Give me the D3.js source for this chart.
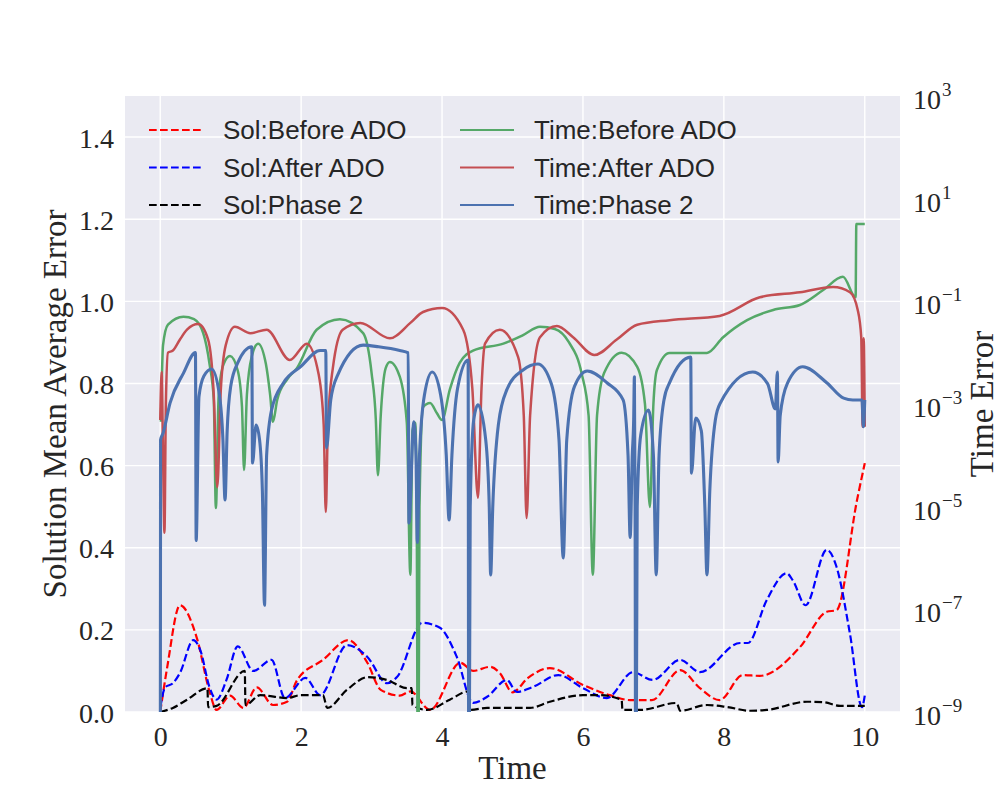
<!DOCTYPE html>
<html>
<head>
<meta charset="utf-8">
<script src="https://cdn.jsdelivr.net/npm/d3@7"></script>
<style>
  body { margin: 0; background: #ffffff; }
  svg { display: block; }
</style>
</head>
<body>
<div id="chart"></div>
<script>
// ---- data ----------------------------------------------------------------
var xTicks = [0, 2, 4, 6, 8, 10];
var solTicks = [0.0, 0.2, 0.4, 0.6, 0.8, 1.0, 1.2, 1.4];
var timeTickExp = [-9, -7, -5, -3, -1, 1, 3];

// Solution mean average error (left axis), [time, value]
var solBefore = [[0.0, 0.0], [0.1, 0.11], [0.28, 0.26], [0.52, 0.18], [0.7, 0.05], [0.8, 0.005],
  [0.99, 0.04], [1.18, 0.01], [1.37, 0.06], [1.6, 0.017], [1.8, 0.025], [1.94, 0.077],
  [2.31, 0.127], [2.67, 0.175], [2.94, 0.12], [3.13, 0.054], [3.4, 0.04], [3.55, 0.05],
  [3.83, 0.005], [4.26, 0.12], [4.44, 0.10], [4.68, 0.11], [4.82, 0.095], [5.0, 0.048],
  [5.22, 0.083], [5.53, 0.107], [6.0, 0.066], [6.38, 0.041], [6.67, 0.029], [6.98, 0.029],
  [7.38, 0.102], [7.66, 0.058], [7.94, 0.029], [8.27, 0.09], [8.51, 0.088], [9.08, 0.158],
  [9.46, 0.244], [9.6, 0.248], [9.89, 0.516], [10.0, 0.606]];

var solAfter = [[0.0, 0.01], [0.07, 0.06], [0.18, 0.07], [0.28, 0.095], [0.47, 0.175], [0.57, 0.15],
  [0.7, 0.06], [0.8, 0.03], [0.94, 0.078], [1.1, 0.16], [1.32, 0.10], [1.58, 0.127],
  [1.77, 0.034], [2.06, 0.083], [2.27, 0.041], [2.65, 0.163], [2.94, 0.134], [3.22, 0.07],
  [3.36, 0.085], [3.72, 0.217], [3.97, 0.205], [4.21, 0.134], [4.44, 0.022], [4.64, 0.037],
  [4.92, 0.078], [5.06, 0.049], [5.29, 0.061], [5.65, 0.09], [6.0, 0.058], [6.34, 0.034],
  [6.71, 0.097], [6.99, 0.078], [7.38, 0.127], [7.66, 0.097], [8.23, 0.168], [8.34, 0.168],
  [8.61, 0.273], [8.89, 0.338], [8.98, 0.32], [9.16, 0.26], [9.46, 0.395], [9.6, 0.353],
  [9.79, 0.19], [9.96, 0.012], [10.0, 0.04]];

var solPhase2 = [[0.0, 0.0], [0.18, 0.01], [0.38, 0.03], [0.67, 0.058], [0.68, 0.012], [0.8, 0.015],
  [1.2, 0.10], [1.21, 0.017], [1.42, 0.041], [1.8, 0.034], [1.99, 0.041], [2.31, 0.041],
  [2.37, 0.01], [2.65, 0.054], [2.95, 0.085], [3.22, 0.078], [3.5, 0.058], [3.57, 0.058],
  [3.58, 0.017], [3.79, 0.005], [4.11, 0.03], [4.37, 0.05], [4.4, 0.005], [4.64, 0.01],
  [5.25, 0.01], [5.53, 0.025], [6.0, 0.041], [6.24, 0.041], [6.55, 0.029], [6.56, 0.005],
  [6.81, 0.005], [7.33, 0.022], [7.38, 0.003], [7.76, 0.017], [8.05, 0.012], [8.37, 0.003],
  [8.61, 0.005], [9.18, 0.025], [9.41, 0.024], [9.65, 0.015], [10.0, 0.015]];

// Time error (right axis, log), [time, value]
var timeBefore = [[0.01, 4.5e-4], [0.04, 1.4e-2], [0.11, 3.5e-2], [0.33, 5.0e-2], [0.48, 4.5e-2],
  [0.61, 2.4e-2], [0.7, 6e-3], [0.76, 1.2e-3], [0.79, 9.4e-6], [0.83, 1.5e-3], [0.9, 6.0e-3],
  [0.99, 8.6e-3], [1.1, 4.5e-3], [1.16, 9e-4], [1.19, 5.2e-5], [1.23, 1.5e-3], [1.3, 8.5e-3],
  [1.39, 1.5e-2], [1.5, 6.0e-3], [1.56, 1.5e-3], [1.6, 4.5e-4], [1.66, 1.2e-3], [1.8, 3.0e-3],
  [1.94, 5.0e-3], [2.22, 2.8e-2], [2.55, 4.5e-2], [2.88, 2.4e-2], [3.0, 4e-3], [3.06, 5e-4],
  [3.09, 4.1e-5], [3.13, 6e-4], [3.2, 5.0e-3], [3.26, 6.6e-3], [3.4, 3.4e-3], [3.5, 4.3e-4],
  [3.55, 4.7e-7], [3.58, 3e-4], [3.62, 4.3e-4], [3.64, 1e-5], [3.66, 1e-12], [3.68, 1e-5],
  [3.73, 8.7e-4], [3.83, 1.05e-3], [3.93, 6.5e-4], [4.0, 4.9e-4], [4.11, 1.9e-3], [4.25, 6.3e-3],
  [4.44, 1.1e-2], [4.87, 1.5e-2], [5.15, 2.2e-2], [5.39, 3.2e-2], [5.6, 2.9e-2], [5.8, 1.6e-2],
  [5.98, 4e-3], [6.08, 6e-4], [6.14, 4.7e-7], [6.2, 6e-4], [6.3, 4e-3], [6.55, 1.0e-2],
  [6.77, 5.3e-3], [6.88, 1.0e-3], [6.95, 9.9e-6], [7.0, 1.0e-3], [7.05, 4.6e-3], [7.23, 9.9e-3],
  [7.76, 9.9e-3], [7.99, 2.0e-2], [8.33, 4.3e-2], [8.7, 6.8e-2], [9.08, 8.5e-2], [9.41, 1.66e-1],
  [9.69, 3.0e-1], [9.87, 1.2e-1], [9.88, 3.2], [10.0, 3.2]];

var timeAfter = [[0.0, 4.9e-4], [0.02, 4.2e-3], [0.04, 1e-4], [0.06, 3.1e-6], [0.08, 1e-3],
  [0.11, 1.0e-2], [0.18, 1.1e-2], [0.28, 1.8e-2], [0.38, 2.8e-2], [0.54, 3.6e-2], [0.68, 1.8e-2],
  [0.76, 1.5e-3], [0.81, 2.4e-5], [0.86, 1.9e-3], [0.93, 1.4e-2], [1.06, 3.2e-2], [1.28, 2.4e-2],
  [1.51, 2.8e-2], [1.84, 7.2e-3], [2.08, 1.5e-2], [2.25, 3.7e-3], [2.32, 4e-4], [2.35, 7.9e-6],
  [2.38, 4e-4], [2.45, 5e-3], [2.59, 2.8e-2], [2.84, 3.8e-2], [3.26, 1.9e-2], [3.55, 3.8e-2],
  [3.73, 6.2e-2], [4.0, 7.4e-2], [4.3, 2.8e-2], [4.43, 2e-3], [4.51, 1.5e-5], [4.56, 2e-3],
  [4.61, 1.5e-2], [4.82, 2.8e-2], [5.08, 8.2e-3], [5.16, 6e-4], [5.2, 6.0e-6], [5.25, 6e-4],
  [5.39, 2.0e-2], [5.63, 3.3e-2], [5.86, 2.0e-2], [6.16, 9.0e-3], [6.48, 1.8e-2], [6.77, 3.5e-2],
  [7.23, 4.3e-2], [7.94, 5.2e-2], [8.51, 1.2e-1], [9.08, 1.5e-1], [9.55, 1.9e-1], [9.79, 1.5e-1],
  [9.9, 6.8e-2], [9.95, 2.0e-2], [9.97, 3.6e-4], [9.985, 1.9e-2], [10.0, 3.6e-4]];

var timePhase2 = [[0.0, 1e-12], [0.005, 2.0e-4], [0.04, 2.7e-4], [0.14, 1.05e-3], [0.33, 4.0e-3],
  [0.5, 1.0e-2], [0.51, 2.2e-6], [0.55, 1.4e-3], [0.62, 3.5e-3], [0.73, 4.8e-3], [0.84, 1.5e-3],
  [0.89, 2e-4], [0.92, 1.35e-5], [0.95, 3e-4], [1.0, 2.2e-3], [1.1, 6.3e-3], [1.3, 1.3e-2],
  [1.31, 7.1e-5], [1.36, 3.9e-4], [1.41, 2.0e-4], [1.45, 2e-5], [1.48, 1.2e-7], [1.51, 1e-4],
  [1.58, 7.6e-4], [1.75, 2.6e-3], [1.99, 5.3e-3], [2.27, 1.1e-2], [2.35, 1.1e-2], [2.36, 1.4e-4],
  [2.42, 1.2e-3], [2.52, 3.7e-3], [2.88, 1.4e-2], [3.1, 1.3e-2], [3.4, 1.1e-2], [3.52, 9.9e-3],
  [3.53, 4.8e-6], [3.6, 4.5e-4], [3.63, 1e-4], [3.65, 2e-6], [3.68, 1e-4], [3.75, 1.5e-3],
  [3.86, 4.2e-3], [3.98, 1.5e-3], [4.06, 1e-4], [4.1, 5.5e-6], [4.14, 1e-4], [4.22, 2e-3],
  [4.37, 7.2e-3], [4.38, 1e-12], [4.4, 1e-5], [4.45, 5e-4], [4.51, 9.6e-4], [4.62, 2e-4],
  [4.67, 1e-5], [4.69, 4.7e-7], [4.72, 1e-5], [4.8, 4e-4], [4.92, 1.9e-3], [5.15, 4.6e-3],
  [5.36, 6.0e-3], [5.55, 2.5e-3], [5.66, 2e-4], [5.72, 1.0e-6], [5.77, 2e-4], [5.88, 2.2e-3],
  [6.06, 4.4e-3], [6.34, 2.6e-3], [6.57, 1.2e-3], [6.64, 1e-4], [6.67, 2.5e-6], [6.7, 1e-4],
  [6.72, 4.9e-4], [6.73, 3.4e-3], [6.74, 1e-5], [6.75, 1e-12], [6.77, 1e-5], [6.82, 2.5e-4],
  [6.93, 7.6e-4], [7.0, 1e-4], [7.04, 4.7e-7], [7.08, 1e-4], [7.15, 1.2e-3], [7.23, 2.6e-3],
  [7.53, 8.2e-3], [7.54, 4.5e-5], [7.6, 5.3e-4], [7.68, 3e-4], [7.73, 1e-5], [7.76, 4.7e-7],
  [7.8, 2e-5], [7.88, 5e-4], [7.95, 1.05e-3], [8.41, 4.2e-3], [8.62, 2.5e-3], [8.73, 8e-4],
  [8.76, 4.2e-3], [8.77, 7.4e-5], [8.8, 6e-4], [8.9, 2.5e-3], [9.12, 5.3e-3], [9.46, 2.6e-3],
  [9.7, 1.3e-3], [9.83, 1.2e-3], [9.96, 1.2e-3], [9.98, 3.6e-4], [10.0, 1.2e-3]];

var solSeries = [
  { name: "Sol:Before ADO", data: solBefore, color: "#ff0000" },
  { name: "Sol:After ADO", data: solAfter, color: "#0000ff" },
  { name: "Sol:Phase 2", data: solPhase2, color: "#000000" }
];
var timeSeries = [
  { name: "Time:Before ADO", data: timeBefore, color: "#55a868", lw: 2.5 },
  { name: "Time:After ADO", data: timeAfter, color: "#c44e52", lw: 2.5 },
  { name: "Time:Phase 2", data: timePhase2, color: "#4c72b0", lw: 3.1 }
];

// ---- layout ----------------------------------------------------------------
var svgWidth = 1000;
var svgHeight = 800;
var margin = { top: 96, right: 100, bottom: 88, left: 125 };
var width = svgWidth - margin.left - margin.right;
var height = svgHeight - margin.top - margin.bottom;

var serif = "'Liberation Serif', 'Times New Roman', serif";
var sans = "'Liberation Sans', Arial, sans-serif";

var svg = d3.select("#chart")
  .append("svg")
  .attr("width", svgWidth)
  .attr("height", svgHeight);

svg.append("rect")
  .attr("width", svgWidth)
  .attr("height", svgHeight)
  .attr("fill", "#ffffff");

var chartGroup = svg.append("g")
  .attr("transform", `translate(${margin.left}, ${margin.top})`);

var xScale = d3.scaleLinear().domain([-0.5, 10.5]).range([0, width]);
var yScale = d3.scaleLinear().domain([0, 1.5]).range([height, 0]);
var y2Scale = d3.scaleLog().domain([1e-9, 1e3]).range([height, 0]);

chartGroup.append("rect")
  .attr("width", width)
  .attr("height", height)
  .attr("fill", "#eaeaf2");

chartGroup.append("clipPath")
  .attr("id", "plotClip")
  .append("rect")
  .attr("width", width)
  .attr("height", height);

// grid
chartGroup.append("g")
  .selectAll("line")
  .data(xTicks)
  .enter()
  .append("line")
  .attr("x1", d => xScale(d))
  .attr("x2", d => xScale(d))
  .attr("y1", 0)
  .attr("y2", height)
  .attr("stroke", "#ffffff")
  .attr("stroke-width", 1.4);

chartGroup.append("g")
  .selectAll("line")
  .data(solTicks)
  .enter()
  .append("line")
  .attr("x1", 0)
  .attr("x2", width)
  .attr("y1", d => yScale(d))
  .attr("y2", d => yScale(d))
  .attr("stroke", "#ffffff")
  .attr("stroke-width", 1.4);

// axes (no spines or tick marks, only labels)
var bottomAxis = d3.axisBottom(xScale).tickValues(xTicks).tickSize(0).tickPadding(14).tickFormat(d3.format("d"));
var leftAxis = d3.axisLeft(yScale).tickValues(solTicks).tickSize(0).tickPadding(11).tickFormat(d3.format(".1f"));

var xAxisG = chartGroup.append("g")
  .attr("transform", `translate(0, ${height})`)
  .call(bottomAxis);
var yAxisG = chartGroup.append("g")
  .call(leftAxis);

[xAxisG, yAxisG].forEach(function (g) {
  g.select(".domain").remove();
  g.selectAll("text")
    .attr("font-family", serif)
    .attr("font-size", "28px")
    .attr("fill", "#262626");
});
yAxisG.selectAll("text").attr("dy", "0.36em");

// right log axis labels as 10^n
var rightLabels = chartGroup.append("g")
  .selectAll("text")
  .data(timeTickExp)
  .enter()
  .append("text")
  .attr("x", width + 13)
  .attr("y", d => y2Scale(Math.pow(10, d)) + 13)
  .attr("font-family", serif)
  .attr("font-size", "28px")
  .attr("fill", "#262626");
rightLabels.append("tspan").text("10");
rightLabels.append("tspan")
  .attr("dy", -13)
  .attr("dx", 1)
  .attr("font-size", "19px")
  .text(d => (d < 0 ? "\u2212" : "") + Math.abs(d));

// ---- lines -------------------------------------------------------------------
var solLine = d3.line()
  .x(d => xScale(d[0]))
  .y(d => yScale(d[1]))
  .curve(d3.curveMonotoneX);

var timeLine = d3.line()
  .x(d => xScale(d[0]))
  .y(d => y2Scale(d[1]))
  .curve(d3.curveMonotoneX);

var plotG = chartGroup.append("g").attr("clip-path", "url(#plotClip)");

plotG.selectAll(".sol")
  .data(solSeries)
  .enter()
  .append("path")
  .attr("class", "sol")
  .attr("d", d => solLine(d.data))
  .attr("fill", "none")
  .attr("stroke", d => d.color)
  .attr("stroke-width", 2.2)
  .attr("stroke-dasharray", "7.7,3.3");

plotG.selectAll(".time")
  .data(timeSeries)
  .enter()
  .append("path")
  .attr("class", "time")
  .attr("d", d => timeLine(d.data))
  .attr("fill", "none")
  .attr("stroke", d => d.color)
  .attr("stroke-width", d => d.lw)
  .attr("stroke-linejoin", "round");

// ---- legend ------------------------------------------------------------------
var legendCols = [
  { items: solSeries, dashed: true, x: 24 },
  { items: timeSeries, dashed: false, x: 335 }
];
var legendG = chartGroup.append("g");
legendCols.forEach(function (col) {
  var rows = legendG.append("g")
    .selectAll("g")
    .data(col.items)
    .enter()
    .append("g")
    .attr("transform", (d, i) => `translate(${col.x}, ${34 + i * 37.5})`);

  rows.append("line")
    .attr("x1", 0)
    .attr("x2", 54)
    .attr("stroke", d => d.color)
    .attr("stroke-width", 2.2)
    .attr("stroke-dasharray", col.dashed ? "7.7,3.3" : null);

  rows.append("text")
    .attr("x", 74)
    .attr("y", 9)
    .attr("font-family", sans)
    .attr("font-size", "26px")
    .attr("fill", "#262626")
    .text(d => d.name);
});

// ---- axis titles -------------------------------------------------------------
chartGroup.append("text")
  .attr("x", width / 2)
  .attr("y", height + 67)
  .attr("text-anchor", "middle")
  .attr("font-family", serif)
  .attr("font-size", "33px")
  .attr("fill", "#262626")
  .text("Time");

chartGroup.append("text")
  .attr("transform", `translate(${-59}, ${height / 2}) rotate(-90)`)
  .attr("text-anchor", "middle")
  .attr("font-family", serif)
  .attr("font-size", "33px")
  .attr("fill", "#262626")
  .text("Solution Mean Average Error");

chartGroup.append("text")
  .attr("transform", `translate(${width + 93}, ${height / 2}) rotate(-90)`)
  .attr("text-anchor", "middle")
  .attr("font-family", serif)
  .attr("font-size", "33px")
  .attr("fill", "#262626")
  .text("Time Error");
</script>
</body>
</html>
